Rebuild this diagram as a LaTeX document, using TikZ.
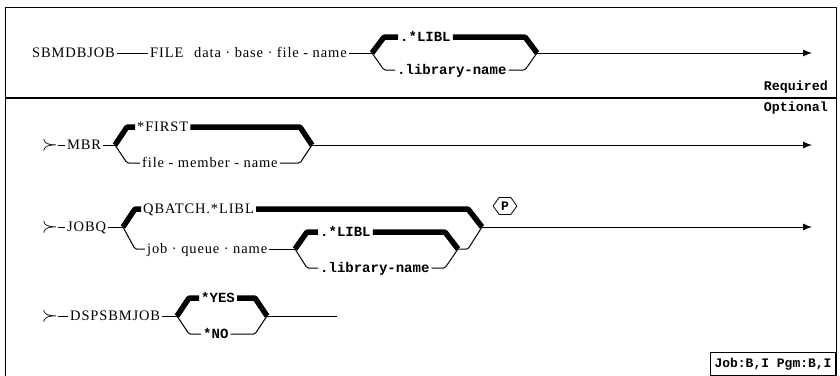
\documentclass[tikz,border=0pt]{standalone}
\usepackage{fontspec}
\usepackage{tikz}
\usetikzlibrary{arrows.meta,positioning,shapes.symbols}
\newfontfamily\kwfont[LetterSpace=6]{Liberation Serif}
\newfontfamily\valfont{Liberation Mono}
\tikzset{
  kw/.style={anchor=west, inner sep=2pt, text height=8pt, text depth=0pt, font=\fontsize{14.5}{17}\selectfont\kwfont},
  val/.style={anchor=west, inner sep=2pt, text height=8pt, text depth=0pt, font=\fontsize{14}{16}\selectfont\valfont\bfseries},
  tagtxt/.style={anchor=east, inner sep=0pt, font=\fontsize{13.3}{15}\selectfont\valfont\bfseries},
  lead/.style={inner sep=0pt, font=\fontsize{20}{21}\selectfont},
  ln/.style={line width=1pt},
  alt/.style={line width=1pt, rounded corners=1.5pt},
  dflt/.style={line width=5.5pt, rounded corners=1pt},
  arr/.style={line width=1pt, -{Latex[length=9pt,width=7pt]}},
}
\begin{document}
\begin{tikzpicture}[x=1pt, y=-1pt]
\useasboundingbox (0,0) rectangle (840,375);
% frame
\draw[line width=1pt] (5,376) -- (5,7) -- (836,7) -- (836,376);
\draw[line width=1.2pt] (5,98) -- (836,98);
\node[tagtxt] (req) at (828,87) {Required};
\node[tagtxt] (opt) at (828,108) {Optional};
\node[draw, line width=1pt, anchor=south east, minimum width=125pt, minimum height=23pt,
      font=\fontsize{13}{15}\selectfont\valfont\bfseries] (jobbox) at (836,376) {Job:B,I Pgm:B,I};

% required part
\node[kw] (sbm) at (30,53) {SBMDBJOB};
\node[kw] (file) at (148,53) {FILE};
\node[kw] (dbf) at (192,53) {data · base · file - name};
\coordinate (f1) at (372,53);
\node[val] (lib1) at (398,37) {.*LIBL};
\node[val] (lnm1) at (395,70) {.library-name};
\coordinate (m1) at (537,53);
\coordinate (r1) at (812,53);
\draw[ln] (sbm) -- (file);
\draw[ln] (dbf) -- (f1);
\draw[dflt] (f1) -- (384,37) -- (lib1);
\draw[dflt] (lib1) -- (525,37) -- (m1);
\draw[alt] (f1) -- (384,70) -- (lnm1);
\draw[alt] (lnm1) -- (525,70) -- (m1);

% MBR
\node[lead] (s2) at (50,145) {$\succ$};
\node[kw] (mbr) at (65,145) {MBR};
\coordinate (f2) at (115,145);
\node[kw] (first) at (135,127) {*FIRST};
\node[kw] (fmn) at (140,163) {file - member - name};
\coordinate (m2) at (312,145);
\coordinate (r2) at (812,145);
\draw[ln] (s2) -- (mbr);
\draw[ln] (mbr) -- (f2);
\draw[dflt] (f2) -- (127,127) -- (first);
\draw[dflt] (first) -- (300,127) -- (m2);
\draw[alt] (f2) -- (127,163) -- (fmn);
\draw[alt] (fmn) -- (300,163) -- (m2);

% JOBQ
\node[lead] (s3) at (50,227) {$\succ$};
\node[kw] (jobq) at (65,227) {JOBQ};
\coordinate (f3) at (123,227);
\node[kw] (qb) at (141,209) {QBATCH.*LIBL};
\node[kw] (jqn) at (145,249) {job · queue · name};
\coordinate (f4) at (295,249);
\node[val] (lib3) at (318,232) {.*LIBL};
\node[val] (lnm3) at (318,268) {.library-name};
\coordinate (m4) at (458,249);
\coordinate (m3) at (482,227);
\coordinate (r3) at (812,227);
\node[signal, signal to=east and west, signal pointer angle=110, draw, line width=0.8pt,
      inner sep=2pt, minimum height=17pt, font=\fontsize{13}{13}\selectfont\valfont\bfseries] (pmark) at (505,206) {P};
\draw[ln] (s3) -- (jobq);
\draw[ln] (jobq) -- (f3);
\draw[dflt] (f3) -- (135,209) -- (qb);
\draw[dflt] (qb) -- (468,209) -- (m3);
\draw[alt] (f3) -- (135,249) -- (jqn);
\draw[ln] (jqn) -- (f4);
\draw[dflt] (f4) -- (307,232) -- (lib3);
\draw[dflt] (lib3) -- (445,232) -- (m4);
\draw[alt] (f4) -- (307,268) -- (lnm3);
\draw[alt] (lnm3) -- (445,268) -- (m4);
\draw[alt] (m4) -- (468,249) -- (m3);

% DSPSBMJOB
\node[lead] (s4) at (50,316) {$\succ$};
\node[kw] (dsp) at (68,316) {DSPSBMJOB};
\coordinate (f5) at (177,316);
\node[val] (yes) at (199,298) {*YES};
\node[val] (no) at (201,334) {*NO};
\coordinate (m5) at (267,316);
\coordinate (e5) at (337,316);
\draw[ln] (s4) -- (dsp);
\draw[ln] (dsp) -- (f5);
\draw[dflt] (f5) -- (189,298) -- (yes);
\draw[dflt] (yes) -- (255,298) -- (m5);
\draw[alt] (f5) -- (189,334) -- (no);
\draw[alt] (no) -- (255,334) -- (m5);
\draw[ln] (m5) -- (e5);

\foreach \a/\b in {m1/r1,m2/r2,m3/r3} \draw[arr] (\a) -- (\b);
\end{tikzpicture}
\end{document}
